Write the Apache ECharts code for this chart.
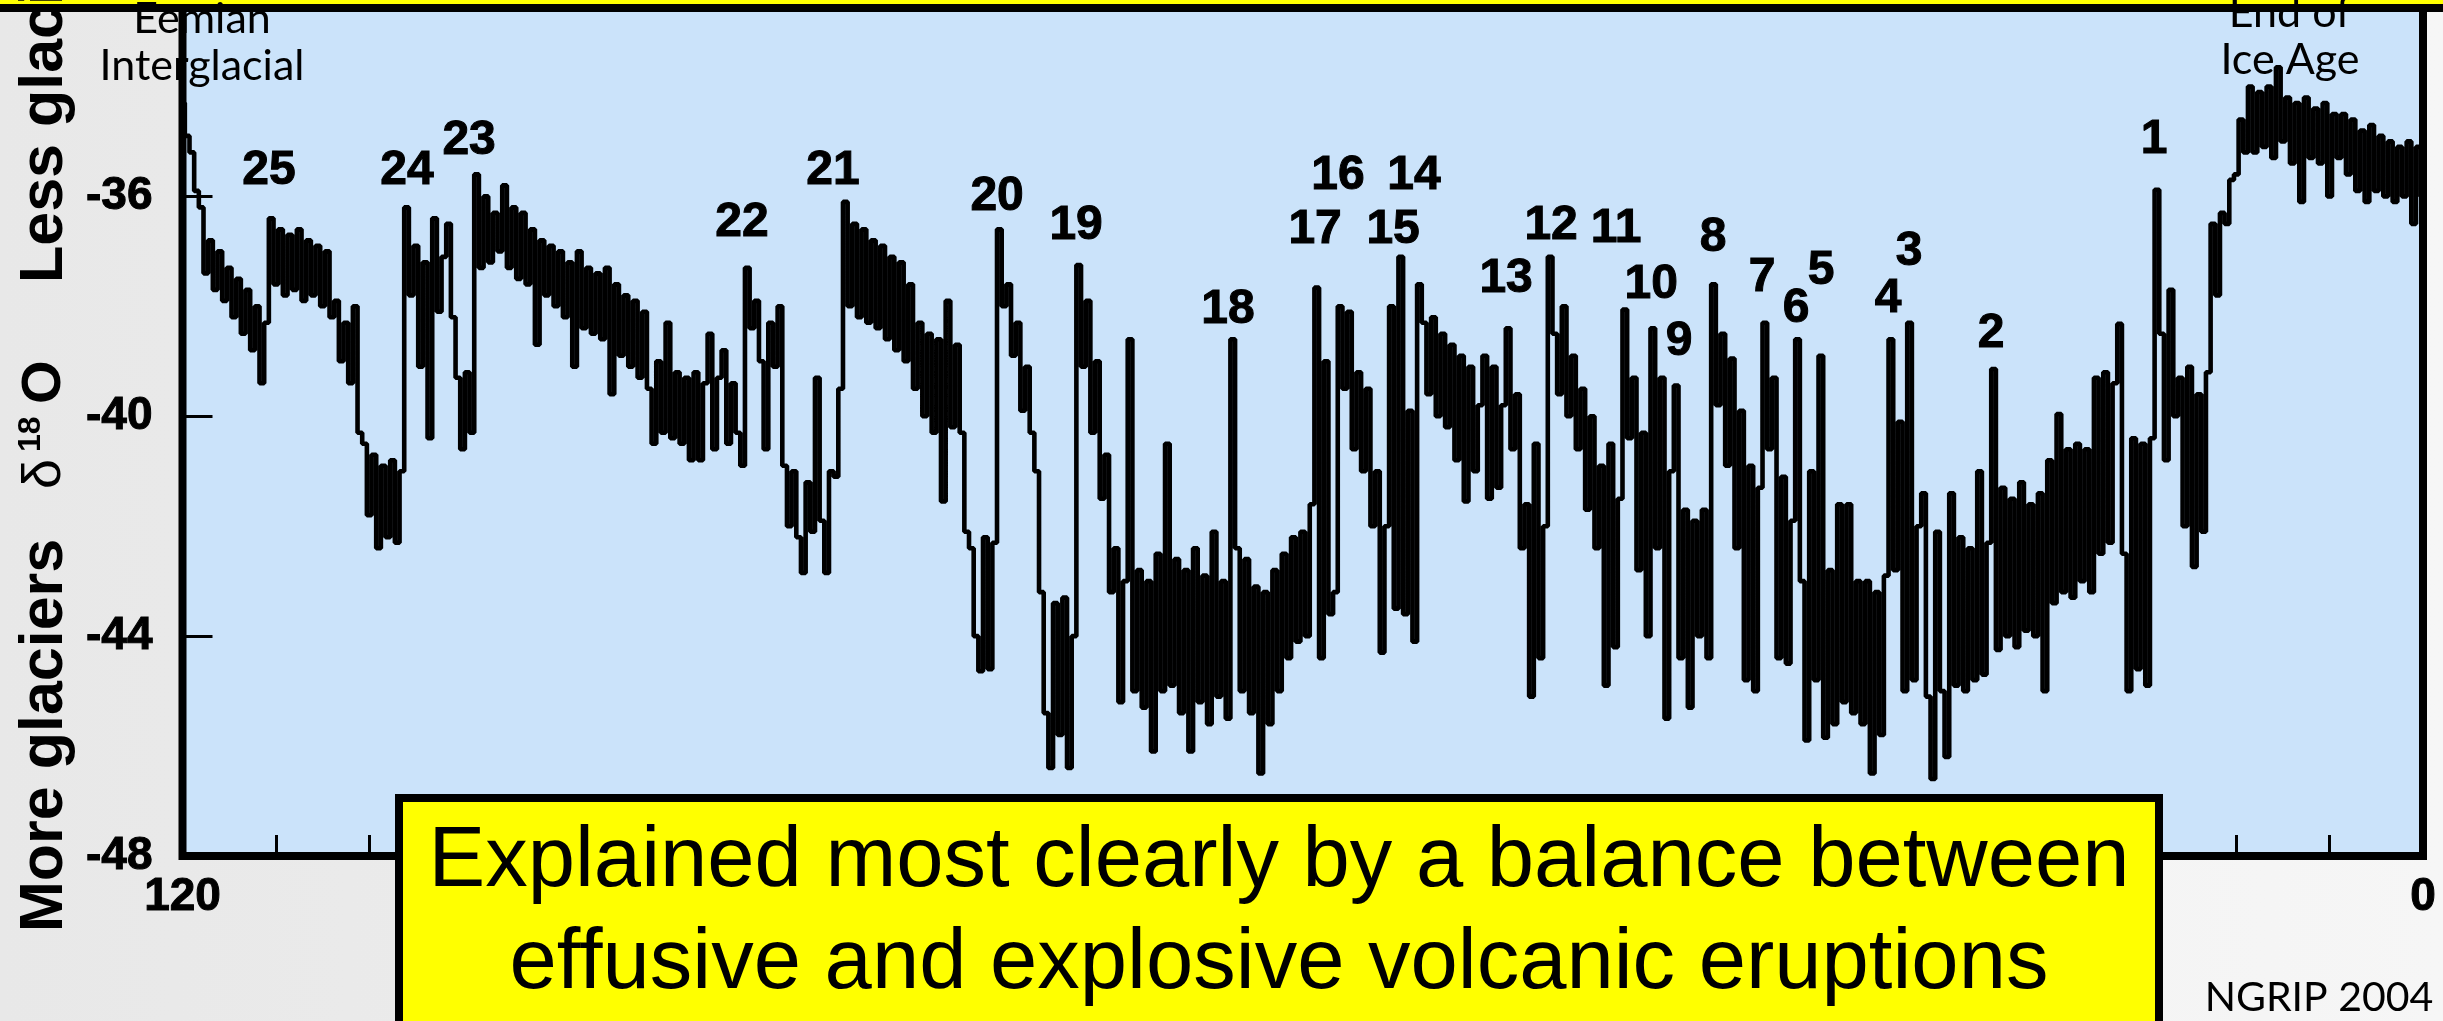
<!DOCTYPE html>
<html>
<head>
<meta charset="utf-8">
<script src="https://cdn.jsdelivr.net/npm/echarts@6/dist/echarts.min.js"></script>
<style>
html,body{margin:0;padding:0;width:2443px;height:1021px;overflow:hidden;background:linear-gradient(to right,#e8e8e8,#f6f6f6);}
#c{width:2443px;height:1021px;}
</style>
</head>
<body>
<div id="c"></div>
<script>
const AGE_START = 120, AGE_STEP = 0.25;
const d18O_120_100 = [
-34.3,-34.9,-35.2,-35.9, -36.2,-37.4,-36.8,-37.7, -37.0,-37.9,-37.3,-38.2, -37.5,-38.5,-37.7,-38.8,
-38.0,-39.4,-38.3,-36.4, -37.6,-36.6,-37.8,-36.7, -37.7,-36.6,-37.9,-36.8, -37.8,-36.9,-38.0,-37.0,
-38.2,-37.9,-39.0,-38.3, -39.4,-38.0,-40.3,-40.5, -41.8,-40.7,-42.4,-40.9, -42.2,-40.8,-42.3,-41.0,
-36.2,-37.8,-36.9,-39.1, -37.2,-40.4,-36.4,-38.1, -37.1,-36.5,-38.2,-39.3, -40.6,-39.2,-40.3,-35.6,
-37.3,-36.0,-37.2,-36.3, -37.0,-35.8,-37.3,-36.2, -37.5,-36.3,-37.6,-36.6, -38.7,-36.8,-37.8,-36.9
];
const d18O_100_80 = [
-38.0,-37.0,-38.2,-37.2, -39.1,-37.0,-38.4,-37.3, -38.5,-37.4,-38.6,-37.3, -39.6,-37.6,-38.9,-37.8,
-39.1,-37.9,-39.3,-38.1, -39.5,-40.5,-39.0,-40.3, -38.3,-40.4,-39.2,-40.5, -39.3,-40.8,-39.2,-40.8,
-39.4,-38.5,-40.6,-39.3, -38.8,-40.5,-39.4,-40.3, -40.9,-37.3,-38.4,-37.9, -39.0,-40.6,-38.3,-39.1,
-38.0,-40.9,-42.0,-41.0, -42.2,-42.85,-41.2,-42.1, -39.3,-41.9,-42.85,-41.0, -41.1,-39.5,-36.1,-38.0,
-36.5,-38.2,-36.6,-38.3, -36.8,-38.4,-36.9,-38.6, -37.1,-38.8,-37.2,-39.0, -37.6,-39.5,-38.3,-40.0
];
const d18O_80_60 = [
-38.5,-40.3,-38.6,-41.55, -37.9,-40.2,-38.7,-40.3, -42.1,-42.4,-44.0,-44.64, -42.2,-44.6,-42.3,-36.6,
-38.0,-37.6,-38.9,-38.3, -39.9,-39.1,-40.3,-41.0, -43.2,-45.4,-46.4,-43.4, -45.8,-43.3,-46.4,-44.0,
-37.25,-39.1,-37.9,-40.3, -39.0,-41.5,-40.7,-43.2, -42.4,-45.2,-43.0,-38.6, -45.0,-42.8,-45.3,-43.0,
-46.1,-42.5,-45.0,-40.5, -44.9,-42.6,-45.4,-42.8, -46.1,-42.4,-45.2,-42.9, -45.6,-42.1,-45.1,-43.0,
-45.5,-38.6,-42.4,-45.0, -42.6,-45.4,-43.1,-46.5, -43.2,-45.6,-42.8,-45.0, -42.5,-44.4,-42.2,-44.1
];
const d18O_60_40 = [
-42.1,-44.0,-41.6,-37.66, -44.4,-39.0,-43.6,-43.2, -38.0,-39.5,-38.1,-40.6, -39.2,-41.0,-39.5,-42.0,
-41.0,-44.3,-42.0,-38.0, -43.5,-37.1,-43.6,-39.9, -44.1,-37.6,-38.3,-39.6, -38.2,-40.0,-38.5,-40.2,
-38.7,-40.8,-38.9,-41.55, -39.1,-41.0,-39.8,-38.9, -41.5,-39.1,-41.3,-39.8, -38.4,-40.6,-39.6,-42.4,
-41.6,-45.1,-40.5,-44.4, -42.0,-37.1,-38.5,-39.6, -38.0,-40.0,-38.9,-40.6, -39.5,-41.7,-40.0,-42.4,
-40.9,-44.9,-40.5,-44.2, -41.5,-38.06,-40.4,-39.3, -42.8,-40.3,-44.0,-38.4, -42.4,-39.3,-45.5,-41.0
];
const d18O_40_20 = [
-39.44,-44.4,-41.7,-45.3, -41.9,-44.0,-41.7,-44.4, -37.6,-39.8,-38.5,-40.9, -38.95,-42.4,-39.9,-44.8,
-40.9,-45.0,-41.3,-38.3, -40.6,-39.3,-44.4,-41.1, -44.5,-41.9,-38.6,-43.0, -45.9,-41.0,-44.8,-38.9,
-45.85,-42.8,-45.6,-41.6, -45.2,-41.6,-45.4,-43.0, -45.6,-43.0,-46.5,-43.2, -45.8,-42.9,-38.6,-42.8,
-40.1,-45.0,-38.3,-44.8, -42.0,-41.4,-45.1,-46.6, -42.1,-45.0,-46.2,-41.4, -44.9,-42.2,-45.0,-42.4,
-44.8,-41.0,-44.7,-42.3, -39.14,-44.25,-41.3,-44.0, -41.5,-44.2,-41.2,-43.9, -41.6,-44.0,-41.4,-45.0
];
const d18O_20_0 = [
-40.8,-43.4,-39.96,-43.2, -40.6,-43.3,-40.5,-43.0, -40.6,-43.2,-39.3,-42.5, -39.2,-42.3,-39.4,-38.32,
-42.5,-45.0,-40.4,-44.6, -40.5,-44.9,-40.4,-35.88, -38.5,-40.8,-37.7,-40.0, -39.3,-42.0,-39.1,-42.74,
-39.6,-42.1,-39.2,-36.5, -37.8,-36.3,-36.5,-35.7, -35.6,-34.6,-35.2,-34.0, -35.2,-34.1,-35.1,-34.0,
-35.3,-33.65,-35.0,-34.2, -35.4,-34.3,-36.1,-34.2, -35.3,-34.4,-35.4,-34.3, -36.0,-34.5,-35.3,-34.5,
-35.6,-34.6,-35.9,-34.8, -36.1,-34.7,-35.9,-34.9, -36.0,-35.0,-36.1,-35.1, -36.0,-35.0,-36.5,-35.1,
-36.0
];

// numbered warming events (label text, age in ka, delta-18O where the label sits)
const eventLabels = ['25','24','23','22','21','20','19','18','17','16','15','14','13','12','11','10','9','8','7','6','5','4','3','2','1'];
const eventAges   = [115.37,107.98,104.65,90.03,85.16,76.37,72.14,64.00,59.34,58.11,55.16,54.04,49.11,46.70,43.22,41.34,39.84,38.02,35.40,33.58,32.24,28.65,27.52,23.13,14.40];
const eventValues = [-35.53,-35.53,-34.99,-36.48,-35.53,-36.01,-36.54,-38.06,-36.61,-35.63,-36.61,-35.63,-37.50,-36.54,-36.59,-37.61,-38.65,-36.75,-37.48,-38.05,-37.35,-37.86,-37.01,-38.50,-34.97];

const yTickValues = [-48, -44, -40, -36];
const xTickLabels = [120, 0];

const ARIAL = '"Liberation Sans", Arial, sans-serif';
const CALIBRI = 'Lato, "Open Sans", sans-serif';

const allValues = [].concat(d18O_120_100, d18O_100_80, d18O_80_60, d18O_60_40, d18O_40_20, d18O_20_0);
const lineData = allValues.map((v, i) => [AGE_START - i * AGE_STEP, v]);
const eventData = eventLabels.map((t, i) => ({ name: t, value: [eventAges[i], eventValues[i]] }));

const chart = echarts.init(document.getElementById('c'), null, { renderer: 'canvas' });

function rotText(x, y, text, size, weight) {
  return {
    type: 'text', z: 101, x: x, y: y, rotation: Math.PI / 2,
    style: { text: text, fontSize: size, fontWeight: weight, fontFamily: ARIAL, fill: '#000', align: 'left', verticalAlign: 'middle' }
  };
}
function plainText(x, y, text, size, family, weight) {
  return {
    type: 'text', z: 101, x: x, y: y,
    style: { text: text, fontSize: size, fontWeight: weight || 'normal', fontFamily: family, fill: '#000', align: 'center', verticalAlign: 'middle' }
  };
}

const boldLabel = { fontWeight: 'bold', fontFamily: ARIAL, color: '#000', textBorderColor: '#000', textBorderWidth: 1, opacity: 1 };

chart.setOption({
  animation: false,
  grid: {
    left: 182.5, right: 20, top: 4, bottom: 165,
    show: true, backgroundColor: '#cbe3fa', borderColor: '#000', borderWidth: 8
  },
  xAxis: {
    type: 'value', min: 0, max: 120, interval: 5, inverse: true, position: 'bottom',
    axisLine: { show: false, onZero: false },
    axisTick: { inside: true, length: 21, lineStyle: { color: '#000', width: 3 } },
    axisLabel: Object.assign({
      showMinLabel: true, showMaxLabel: true,
      formatter: v => (xTickLabels.indexOf(v) >= 0 ? String(v) : ''),
      fontSize: 46, margin: 18
    }, boldLabel),
    splitLine: { show: false }
  },
  yAxis: {
    type: 'value', min: -48, max: -32.5, interval: 4, position: 'left',
    axisLine: { show: false, onZero: false },
    axisTick: { inside: true, length: 30, lineStyle: { color: '#000', width: 3 } },
    axisLabel: Object.assign({
      formatter: v => (yTickValues.indexOf(v) >= 0 ? String(v) : ''),
      fontSize: 46, margin: 30
    }, boldLabel),
    splitLine: { show: false }
  },
  series: [
    {
      type: 'line', data: lineData, step: 'middle', symbol: 'none', silent: true, z: 3,
      lineStyle: { color: '#000', width: 4.6 }
    },
    {
      type: 'scatter', data: eventData, symbol: 'circle', symbolSize: 0.1, silent: true, z: 5,
      itemStyle: { color: '#cbe3fa', opacity: 1 },
      label: Object.assign({ show: true, position: 'inside', formatter: '{b}', fontSize: 48 }, boldLabel),
      emphasis: { disabled: true }
    }
  ],
  graphic: [
    plainText(202, 19, 'Eemian', 43, CALIBRI),
    plainText(202, 66, 'Interglacial', 43, CALIBRI),
    plainText(2290, 13, 'End of', 43, CALIBRI),
    plainText(2290, 60, 'Ice Age', 43, CALIBRI),
    { type: 'rect', z: 100, shape: { x: -20, y: -60, width: 2483, height: 68 }, style: { fill: '#ffff00', stroke: '#000', lineWidth: 8 } },
    { type: 'rect', z: 100, shape: { x: 399, y: 798, width: 1760, height: 400 }, style: { fill: '#ffff00', stroke: '#000', lineWidth: 8 } },
    plainText(1279, 863, 'Explained most clearly by a balance between', 85, ARIAL),
    plainText(1279, 965, 'effusive and explosive volcanic eruptions', 85, ARIAL),
    plainText(2319, 998, 'NGRIP 2004', 41, CALIBRI),
    rotText(45, 932, 'More glaciers', 61, 'bold'),
    rotText(45, 489, 'δ', 54, 'normal'),
    rotText(31, 452, '18', 32, 'bold'),
    rotText(45, 404, 'O', 56, 'bold'),
    rotText(45, 283, 'Less glaciers', 61, 'bold')
  ]
});
</script>
</body>
</html>
